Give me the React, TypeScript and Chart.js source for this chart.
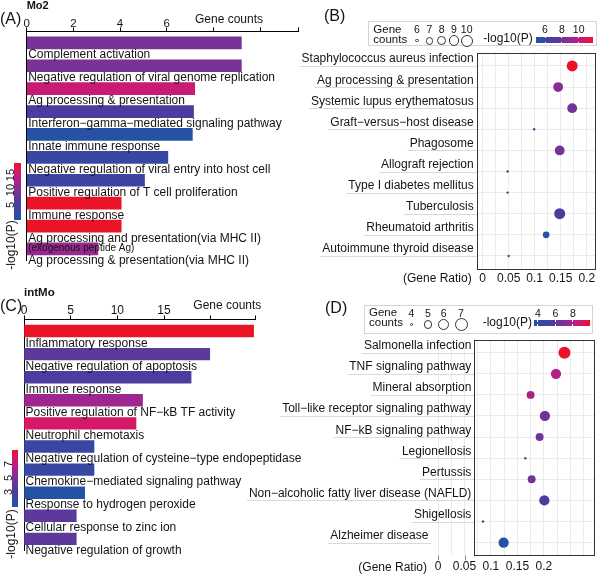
import React, { useEffect, useRef } from 'react';
import { Chart, registerables } from 'chart.js';

Chart.register(...registerables);

const FONT = '"Liberation Sans", Arial, Helvetica, sans-serif';
const INK = '#141414';
Chart.defaults.font.family = FONT;
Chart.defaults.color = INK;

// ---------------- Panel A : Mo2 GO terms ----------------
const mo2Terms = [
  'Complement activation',
  'Negative regulation of viral genome replication',
  'Ag processing & presentation',
  'Interferon\u2212gamma\u2212mediated signaling pathway',
  'Innate immune response',
  'Negative regulation of viral entry into host cell',
  'Positive regulation of T cell proliferation',
  'Immune response',
  'Ag processing and presentation(via MHC II)\n(exogenous peptide Ag)',
  'Ag processing & presentation(via MHC II)',
];
const mo2Counts = [9.2, 9.2, 7.2, 7.15, 7.1, 6.05, 5.05, 4.05, 4.05, 3.05];
const mo2LogP = [9.6, 9.6, 15.4, 5.8, 0.4, 2.9, 3.9, 19.3, 19.3, 11.6];
const mo2LogPRange = [0, 19.3];
const mo2LogPTicks = [5, 10, 15];
const mo2CountTicks = [0, 2, 4, 6, 8, 10];
const mo2CountMax = 11.64;
const mo2CountLabelMax = 6;

// ---------------- Panel C : intMo GO terms ----------------
const intMoTerms = [
  'Inflammatory response',
  'Negative regulation of apoptosis',
  'Immune response',
  'Positive regulation of NF\u2212kB TF activity',
  'Neutrophil chemotaxis',
  'Negative regulation of cysteine\u2212type endopeptidase',
  'Chemokine\u2212mediated signaling pathway',
  'Response to hydrogen peroxide',
  'Cellular response to zinc ion',
  'Negative regulation of growth',
];
const intMoCounts = [24.6, 19.9, 17.9, 12.7, 12, 7.5, 7.5, 6.5, 5.6, 5.6];
const intMoLogP = [9, 3.9, 3.3, 5.9, 7.8, 2.1, 2.1, 0.8, 3.9, 3.9];
const intMoLogPRange = [0.8, 9];
const intMoLogPTicks = [3, 5, 7];
const intMoCountTicks = [0, 5, 10, 15, 20];
const intMoCountMax = 24.75;
const intMoCountLabelMax = 15;

// ---------------- Panel B : Mo2 KEGG ----------------
const mo2KeggTerms = [
  'Staphylococcus aureus infection',
  'Ag processing & presentation',
  'Systemic lupus erythematosus',
  'Graft\u2212versus\u2212host disease',
  'Phagosome',
  'Allograft rejection',
  'Type I diabetes mellitus',
  'Tuberculosis',
  'Rheumatoid arthritis',
  'Autoimmune thyroid disease',
];
const mo2KeggRatio = [0.172, 0.145, 0.172, 0.099, 0.148, 0.048, 0.048, 0.148, 0.122, 0.05];
const mo2KeggCounts = [10, 9, 9, 6, 9, 6, 6, 10, 7, 6];
const mo2KeggLogP = [11.7, 8.6, 8.0, 7.6, 8.0, 6.2, 6.2, 7.0, 5.2, 5.5];
const mo2KeggLogPRange = [4.93, 11.7];
const mo2KeggLogPTicks = [6, 8, 10];
const mo2KeggSizeBreaks = [6, 7, 8, 9, 10];
const mo2KeggRatioRange = [-0.0113, 0.2148];
const mo2KeggRatioTicks = [0, 0.025, 0.05, 0.075, 0.1, 0.125, 0.15, 0.175, 0.2];
const mo2KeggRatioLabelMax = 0.2;

// ---------------- Panel D : intMo KEGG ----------------
const intMoKeggTerms = [
  'Salmonella infection',
  'TNF signaling pathway',
  'Mineral absorption',
  'Toll\u2212like receptor signaling pathway',
  'NF\u2212kB signaling pathway',
  'Legionellosis',
  'Pertussis',
  'Non\u2212alcoholic fatty liver disease (NAFLD)',
  'Shigellosis',
  'Alzheimer disease',
];
const intMoKeggRatio = [0.239, 0.223, 0.175, 0.202, 0.192, 0.165, 0.177, 0.201, 0.085, 0.124];
const intMoKeggCounts = [7, 6, 5, 6, 5, 4, 5, 6, 4, 6];
const intMoKeggLogP = [9.9, 8.2, 8.0, 6.5, 6.6, 6.0, 6.5, 5.5, 3.9, 3.6];
const intMoKeggLogPRange = [3.6, 9.95];
const intMoKeggLogPTicks = [4, 6, 8];
const intMoKeggSizeBreaks = [4, 5, 6, 7];
const intMoKeggRatioRange = [0.0685, 0.2949];
const intMoKeggRatioTicks = [0, 0.025, 0.05, 0.075, 0.1, 0.125, 0.15, 0.175, 0.2, 0.225, 0.25, 0.275];
const intMoKeggRatioLabelMax = 0.2;
// the last row label sits further left in the original figure
const intMoKeggLabelShift = [0, 0, 0, 0, 0, 0, 0, 0, 0, 43];

// ---------------- colour scale ----------------
const GRAD: [number, number[]][] = [
  [0, [36, 83, 166]],
  [0.3, [74, 61, 158]],
  [0.5, [122, 50, 150]],
  [0.7, [176, 32, 138]],
  [0.85, [212, 24, 106]],
  [1, [234, 20, 40]],
];
function colorAt(t: number) {
  const u = Math.max(0, Math.min(1, t));
  for (let i = 1; i < GRAD.length; i++) {
    if (u <= GRAD[i][0]) {
      const [t0, c0] = GRAD[i - 1];
      const [t1, c1] = GRAD[i];
      const f = (u - t0) / (t1 - t0);
      return `rgb(${c0.map((v, k) => Math.round(v + (c1[k] - v) * f)).join(',')})`;
    }
  }
  return `rgb(${GRAD[GRAD.length - 1][1].join(',')})`;
}
const colorFor = (v: number, r: number[]) => colorAt((v - r[0]) / (r[1] - r[0]));
const cssGrad = (dir: string) =>
  `linear-gradient(${dir}, ${GRAD.map(([t, c]) => `rgb(${c.join(',')}) ${t * 100}%`).join(', ')})`;

function sizeRadius(c: number, breaks: number[], rMin: number, rMax: number) {
  const t = Math.max(0, Math.min(1, (c - breaks[0]) / (breaks[breaks.length - 1] - breaks[0])));
  return rMin + (rMax - rMin) * Math.sqrt(t);
}
const B_R = [1.2, 5.5];
const D_R = [1.2, 6];

// ---------------- chart configs ----------------
function barLabelPlugin(terms: string[]) {
  return {
    id: 'barLabels',
    afterDatasetsDraw(chart: any) {
      const { ctx, chartArea, scales } = chart;
      ctx.save();
      ctx.fillStyle = INK;
      ctx.textAlign = 'left';
      ctx.textBaseline = 'alphabetic';
      terms.forEach((t, i) => {
        const cy = scales.y.getPixelForValue(i);
        t.split('\n').forEach((ln, j) => {
          ctx.font = `${j === 0 ? 12 : 10}px ${FONT}`;
          ctx.fillText(ln, chartArea.left + 1.5, cy + 15.5 + j * 9.6);
        });
      });
      ctx.restore();
    },
  };
}

function barConfig(o: any) {
  return {
    type: 'bar',
    data: {
      labels: o.terms,
      datasets: [
        {
          data: o.counts,
          backgroundColor: o.logP.map((v: number) => colorFor(v, o.range)),
          borderWidth: 0,
          barThickness: o.thickness,
        },
      ],
    },
    options: {
      indexAxis: 'y',
      responsive: false,
      animation: false,
      events: [],
      layout: { padding: o.padding },
      plugins: { legend: { display: false }, tooltip: { enabled: false } },
      scales: {
        x: {
          type: 'linear',
          position: 'top',
          min: 0,
          max: o.max,
          afterBuildTicks: (s: any) => {
            s.ticks = [...o.ticks, o.max].map((v: number) => ({ value: v }));
          },
          ticks: {
            autoSkip: false,
            maxRotation: 0,
            padding: o.tickPad,
            color: INK,
            font: { size: o.tickSize },
            callback: (v: any) => (v <= o.labelMax ? String(v) : ''),
          },
          grid: { display: true, drawOnChartArea: false, drawTicks: true, tickLength: 4, color: '#000', lineWidth: 1 },
          border: { display: true, color: '#000', width: 1 },
          afterFit: (s: any) => {
            s.height = o.axisH;
          },
        },
        y: {
          type: 'category',
          offset: true,
          ticks: { display: false },
          grid: { display: false, drawTicks: false },
          border: { display: true, color: '#000', width: 1 },
          afterFit: (s: any) => {
            s.width = 0;
          },
        },
      },
    },
    plugins: [barLabelPlugin(o.terms)],
  };
}

function dotDecorPlugin(terms: string[], shift: number[]) {
  return {
    id: 'dotDecor',
    afterDraw(chart: any) {
      const { ctx, chartArea: a, scales } = chart;
      const xs = scales.x;
      const ys = scales.y;
      ctx.save();
      ctx.font = `12px ${FONT}`;
      ctx.textAlign = 'right';
      ctx.textBaseline = 'alphabetic';
      terms.forEach((t, i) => {
        const py = ys.getPixelForValue(i);
        const right = a.left - 3 - (shift[i] || 0);
        const w = ctx.measureText(t).width;
        const ly = Math.round(py) + 0.5;
        ctx.strokeStyle = '#dadada';
        ctx.lineWidth = 1;
        ctx.beginPath();
        ctx.moveTo(right - w - 2, ly);
        ctx.lineTo(right + 3, ly);
        ctx.stroke();
        ctx.fillStyle = INK;
        ctx.fillText(t, right, py - 3.5);
      });
      ctx.strokeStyle = '#8a8a8a';
      xs.ticks.forEach((tk: any) => {
        if (tk.value < xs.min && tk.label !== '') {
          const px = Math.round(xs.getPixelForValue(tk.value)) + 0.5;
          ctx.beginPath();
          ctx.moveTo(px, a.bottom);
          ctx.lineTo(px, a.bottom + 5);
          ctx.stroke();
        }
      });
      ctx.strokeStyle = '#333';
      ctx.lineWidth = 1;
      const l = Math.round(a.left) + 0.5;
      const t = Math.round(a.top) + 0.5;
      ctx.strokeRect(l, t, Math.round(a.right) - Math.round(a.left), Math.round(a.bottom) - Math.round(a.top));
      ctx.restore();
    },
  };
}

const ratioLabel = (labelMax: number) => (v: any) => {
  const q = v / 0.05;
  if (Math.abs(q - Math.round(q)) < 1e-6 && v <= labelMax + 1e-9) return String(+Number(v).toFixed(2));
  return '';
};

function dotConfig(o: any) {
  const radii = o.counts.map((c: number) => sizeRadius(c, o.breaks, o.rr[0], o.rr[1]));
  return {
    type: 'scatter',
    data: {
      datasets: [
        {
          data: o.ratio.map((r: number, i: number) => ({ x: r, y: i })),
          pointRadius: radii,
          pointHoverRadius: radii,
          pointBackgroundColor: o.logP.map((v: number) => colorFor(v, o.range)),
          pointBorderWidth: 0,
          pointBorderColor: 'rgba(0,0,0,0)',
        },
      ],
    },
    options: {
      responsive: false,
      animation: false,
      events: [],
      layout: { padding: o.padding },
      plugins: { legend: { display: false }, tooltip: { enabled: false } },
      scales: {
        x: {
          type: 'linear',
          min: o.xRange[0],
          max: o.xRange[1],
          afterBuildTicks: (s: any) => {
            s.ticks = o.xTicks.map((v: number) => ({ value: v }));
          },
          ticks: {
            autoSkip: false,
            maxRotation: 0,
            minRotation: 0,
            padding: o.tickPad,
            color: INK,
            font: { size: 12 },
            callback: ratioLabel(o.labelMax),
          },
          grid: { color: '#ebebeb', drawTicks: false, lineWidth: 1 },
          border: { display: false },
          afterFit: (s: any) => {
            s.height = o.axisH;
          },
        },
        y: {
          type: 'linear',
          reverse: true,
          min: -0.6,
          max: 9.6,
          afterBuildTicks: (s: any) => {
            s.ticks = o.terms.map((_: string, i: number) => ({ value: i }));
          },
          ticks: { display: false },
          grid: { color: '#ebebeb', drawTicks: false, lineWidth: 1 },
          border: { display: false },
          afterFit: (s: any) => {
            s.width = 0;
          },
        },
      },
    },
    plugins: [dotDecorPlugin(o.terms, o.shift || [])],
  };
}

const makeA = () =>
  barConfig({
    terms: mo2Terms,
    counts: mo2Counts,
    logP: mo2LogP,
    range: mo2LogPRange,
    ticks: mo2CountTicks,
    max: mo2CountMax,
    labelMax: mo2CountLabelMax,
    padding: { left: 26.7, right: 1.7, top: 0, bottom: 19.6 },
    axisH: 31.4,
    thickness: 12,
    tickSize: 11.5,
    tickPad: -3,
  });
const makeC = () =>
  barConfig({
    terms: intMoTerms,
    counts: intMoCounts,
    logP: intMoLogP,
    range: intMoLogPRange,
    ticks: intMoCountTicks,
    max: intMoCountMax,
    labelMax: intMoCountLabelMax,
    padding: { left: 24, right: 65, top: 0, bottom: 24.55 },
    axisH: 39.45,
    thickness: 11.7,
    tickSize: 12,
    tickPad: -2.75,
  });
const makeB = () =>
  dotConfig({
    terms: mo2KeggTerms,
    ratio: mo2KeggRatio,
    counts: mo2KeggCounts,
    logP: mo2KeggLogP,
    range: mo2KeggLogPRange,
    breaks: mo2KeggSizeBreaks,
    rr: B_R,
    xRange: mo2KeggRatioRange,
    xTicks: mo2KeggRatioTicks,
    labelMax: mo2KeggRatioLabelMax,
    padding: { left: 176.7, right: 3, top: 53.3, bottom: 0 },
    axisH: 21.4,
    tickPad: 2.5,
  });
const makeD = () =>
  dotConfig({
    terms: intMoKeggTerms,
    ratio: intMoKeggRatio,
    counts: intMoKeggCounts,
    logP: intMoKeggLogP,
    range: intMoKeggLogPRange,
    breaks: intMoKeggSizeBreaks,
    rr: D_R,
    xRange: intMoKeggRatioRange,
    xTicks: intMoKeggRatioTicks,
    labelMax: intMoKeggRatioLabelMax,
    shift: intMoKeggLabelShift,
    padding: { left: 274.3, right: 4, top: 50, bottom: 0 },
    axisH: 19.7,
    tickPad: 4.2,
  });

// ---------------- components ----------------
function ChartCanvas({ left, top, width, height, make }: any) {
  const ref = useRef<HTMLCanvasElement>(null);
  useEffect(() => {
    const chart = new Chart(ref.current as HTMLCanvasElement, make());
    return () => chart.destroy();
  }, []);
  return (
    <canvas
      ref={ref}
      width={width}
      height={height}
      style={{ position: 'absolute', left, top, width, height }}
    />
  );
}

function T({ x, y, size = 12, bold = false, align = 'left', children }: any) {
  const tx = align === 'center' ? 'translateX(-50%)' : align === 'right' ? 'translateX(-100%)' : 'none';
  return (
    <div
      style={{
        position: 'absolute',
        left: x,
        top: y - 0.8465 * size,
        fontSize: size,
        lineHeight: `${size}px`,
        fontWeight: bold ? 700 : 400,
        whiteSpace: 'nowrap',
        color: INK,
        transform: tx,
        fontFamily: FONT,
      }}
    >
      {children}
    </div>
  );
}

function RT({ cx, cy, size = 12, children }: any) {
  return (
    <div
      style={{
        position: 'absolute',
        left: cx,
        top: cy,
        fontSize: size,
        lineHeight: `${size}px`,
        whiteSpace: 'nowrap',
        color: INK,
        fontFamily: FONT,
        transform: 'translate(-50%,-50%) rotate(-90deg)',
      }}
    >
      {children}
    </div>
  );
}

function VBar({ left, top, width, height, range, ticks, labelCx, titleCy }: any) {
  return (
    <>
      <div style={{ position: 'absolute', left, top, width, height, background: cssGrad('to top') }} />
      {ticks.map((v: number) => (
        <RT key={v} cx={labelCx} cy={top + height - ((v - range[0]) / (range[1] - range[0])) * height} size={11}>
          {String(v)}
        </RT>
      ))}
      <RT cx={11} cy={titleCy} size={12}>
        -log10(P)
      </RT>
    </>
  );
}

function HBar({ left, top, width, height, range, ticks, labelBaseline }: any) {
  const px = (v: number) => left + ((v - range[0]) / (range[1] - range[0])) * width;
  return (
    <>
      <div style={{ position: 'absolute', left, top, width, height, background: cssGrad('to right') }} />
      {ticks.map((v: number) => (
        <React.Fragment key={v}>
          <div style={{ position: 'absolute', left: px(v) - 0.5, top, width: 1, height: 1.5, background: '#fff' }} />
          <div style={{ position: 'absolute', left: px(v) - 0.5, top: top + height - 1.5, width: 1, height: 1.5, background: '#fff' }} />
          <T x={px(v)} y={labelBaseline} size={10.5} align="center">
            {String(v)}
          </T>
        </React.Fragment>
      ))}
    </>
  );
}

function SizeLegend({ breaks, xs, labelBaseline, cy, rr }: any) {
  return (
    <>
      {breaks.map((b: number, i: number) => {
        const r = sizeRadius(b, breaks, rr[0], rr[1]) + 0.5;
        return (
          <React.Fragment key={b}>
            <T x={xs[i]} y={labelBaseline} size={10.5} align="center">
              {String(b)}
            </T>
            <div
              style={{
                position: 'absolute',
                left: xs[i] - r,
                top: cy - r,
                width: 2 * r,
                height: 2 * r,
                borderRadius: '50%',
                border: '1px solid #333',
                boxSizing: 'border-box',
                background: '#fff',
              }}
            />
          </React.Fragment>
        );
      })}
    </>
  );
}

export default function App() {
  return (
    <div
      style={{
        position: 'absolute',
        left: 0,
        top: 0,
        width: 600,
        height: 575,
        background: '#fff',
        overflow: 'hidden',
        fontFamily: FONT,
        color: INK,
      }}
    >
      <ChartCanvas left={0} top={0} width={300} height={280} make={makeA} />
      <ChartCanvas left={0} top={280} width={320} height={295} make={makeC} />
      <ChartCanvas left={300} top={0} width={300} height={290} make={makeB} />
      <ChartCanvas left={200} top={290} width={400} height={285} make={makeD} />

      {/* Panel A annotations */}
      <T x={26.7} y={9.5} size={11} bold>
        Mo2
      </T>
      <T x={0} y={25} size={16}>
        (A)
      </T>
      <T x={195} y={22.7} size={12}>
        Gene counts
      </T>
      <VBar left={14} top={162.7} width={7.3} height={57.3} range={mo2LogPRange} ticks={mo2LogPTicks} labelCx={9.7} titleCy={245} />

      {/* Panel C annotations */}
      <T x={24} y={296.7} size={11.5} bold>
        intMo
      </T>
      <T x={0} y={311.6} size={16}>
        (C)
      </T>
      <T x={193.3} y={309.3} size={12}>
        Gene counts
      </T>
      <VBar left={12} top={450} width={6.3} height={57} range={intMoLogPRange} ticks={intMoLogPTicks} labelCx={7.8} titleCy={533.5} />

      {/* Panel B annotations */}
      <T x={324} y={21.6} size={16}>
        (B)
      </T>
      <div
        style={{
          position: 'absolute',
          left: 368,
          top: 21,
          width: 229,
          height: 25,
          border: '1px solid #d4d4d4',
          boxSizing: 'border-box',
        }}
      />
      <T x={373.3} y={33.5} size={11.5}>
        Gene
      </T>
      <T x={373.3} y={43.5} size={11.5}>
        counts
      </T>
      <SizeLegend breaks={mo2KeggSizeBreaks} xs={[417, 429.5, 441.7, 454, 466.7]} labelBaseline={33.3} cy={40.7} rr={B_R} />
      <T x={483.3} y={42.5} size={12}>
        -log10(P)
      </T>
      <HBar left={536} top={36.7} width={57} height={6.6} range={mo2KeggLogPRange} ticks={mo2KeggLogPTicks} labelBaseline={33.3} />
      <T x={403} y={282.6} size={12}>
        (Gene Ratio)
      </T>

      {/* Panel D annotations */}
      <T x={325} y={313.3} size={16}>
        (D)
      </T>
      <div
        style={{
          position: 'absolute',
          left: 364,
          top: 305,
          width: 229.3,
          height: 29,
          border: '1px solid #d4d4d4',
          boxSizing: 'border-box',
        }}
      />
      <T x={369} y={316.7} size={11.5}>
        Gene
      </T>
      <T x={369} y={326.7} size={11.5}>
        counts
      </T>
      <SizeLegend breaks={intMoKeggSizeBreaks} xs={[411.3, 428, 443.7, 461]} labelBaseline={316.7} cy={324.3} rr={D_R} />
      <T x={482.7} y={326.5} size={12}>
        -log10(P)
      </T>
      <HBar left={534.3} top={320} width={55.7} height={5.7} range={intMoKeggLogPRange} ticks={intMoKeggLogPTicks} labelBaseline={316.7} />
      <T x={358.3} y={571} size={12}>
        (Gene Ratio)
      </T>
    </div>
  );
}
